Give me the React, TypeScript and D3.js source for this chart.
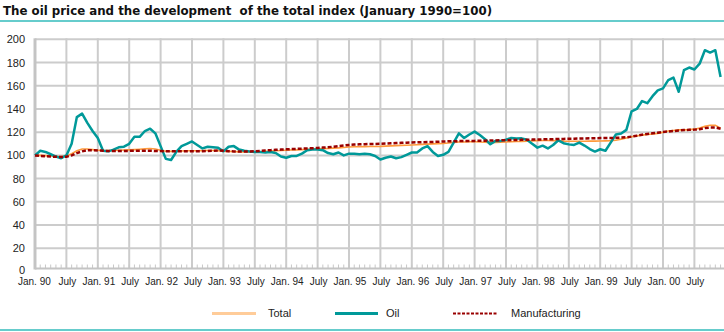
import React from "react";
import * as d3 from "d3";

const title = "The oil price and the development  of the total index (January 1990=100)";
const yTicks = [0, 20, 40, 60, 80, 100, 120, 140, 160, 180, 200];
const xTickLabels = [
  "Jan. 90", "July", "Jan. 91", "July", "Jan. 92", "July", "Jan. 93", "July",
  "Jan. 94", "July", "Jan. 95", "July", "Jan. 96", "July", "Jan. 97", "July",
  "Jan. 98", "July", "Jan. 99", "July", "Jan. 00", "July",
];
const seriesNames = ["Total", "Oil", "Manufacturing"];

// monthly values, Jan 1990 .. Dec 2000
const total = [
  100, 100, 99.8, 99.5, 99.2, 99, 99.5, 101.5, 104, 105.5, 105.5, 105,
  104.5, 104.3, 104.2, 104.3, 104.5, 104.6, 104.8, 105, 105.3, 105.6, 106, 105.5,
  104.5, 103.6, 103.5, 103.6, 103.8, 104, 104, 104, 104.1, 104.2, 104.2, 104,
  103.6, 103.5, 103.3, 103, 103, 103, 103, 103.2, 103.5, 103.8, 104, 104.2,
  104.5, 104.7, 104.8, 105, 105.3, 105.5, 105.6, 105.8, 106, 106.3, 106.5, 106.8,
  107.2, 107.4, 107.5, 107.6, 107.7, 107.7, 107.8, 108, 108.2, 108.4, 108.6, 108.8,
  109, 109.2, 109.5, 109.7, 109.9, 110.1, 110.3, 110.7, 111.2, 111.5, 111.6, 111.8,
  111.8, 111.5, 111.3, 111, 111.2, 111.4, 111.6, 111.8, 112, 112, 112.2, 112.5,
  112.7, 112.8, 112.8, 112.7, 112.5, 112.3, 112.2, 112.2, 112.2, 112.2, 112.3, 112.3,
  112.4, 112.5, 112.6, 113, 114, 115, 116, 116.8, 117.5, 118, 118.5, 119,
  120, 121, 121.5, 122, 122, 122.2, 122.6, 123.5, 125, 126, 126, 123.5,
];
const oil = [
  100, 104, 103, 101, 99, 97.6, 100, 110, 133, 136, 128, 121,
  115, 104, 103.5, 105, 107, 107.5, 110, 116, 116, 121, 123, 119,
  108, 97, 96, 103, 108, 110, 112, 109, 106, 107.5, 107, 106.5,
  103.5, 107.5, 108, 105, 104, 103.3, 103, 103, 102.5, 103, 102, 99,
  98, 99.5, 99.5, 101.5, 104.5, 105, 105, 104.5, 102, 101, 102.5, 100,
  101.5, 101.5, 101, 101.5, 101, 99.5, 96.5, 98, 99, 97.5, 98.5, 100.5,
  102.5, 102.5, 106, 108, 103, 99.5, 100.5, 103, 111, 119, 115, 118,
  120.5, 117.5, 114, 109.6, 112.5, 112.5, 113.5, 115, 114.5, 114.7, 113.5, 110,
  106.7, 108.4, 106, 109, 113, 110.5, 109.5, 109, 111, 108.5, 105.5, 103.3,
  105.3, 104, 111, 118, 118.8, 122, 138, 140, 146.8, 145, 151, 156,
  157.7, 164.8, 167, 154.8, 173.4, 175.7, 174, 179, 190.6, 188.6, 190.6, 167.6,
];
const manufacturing = [
  100, 99.6, 99.3, 99, 98.8, 98.6, 98.8, 100, 102, 103.5, 104.5, 104.5,
  104.3, 104, 103.8, 103.7, 103.7, 103.8, 103.9, 104, 104, 104, 104, 103.8,
  103.7, 103.6, 103.6, 103.6, 103.6, 103.6, 103.6, 103.6, 103.6, 103.8, 104, 104.2,
  104, 103.6, 103.4, 103.3, 103.3, 103.4, 103.6, 103.9, 104.2, 104.5, 104.8, 105,
  105.2, 105.4, 105.6, 105.8, 106, 106.2, 106.4, 106.7, 107, 107.5, 108, 108.5,
  109, 109.3, 109.5, 109.7, 109.8, 109.9, 110, 110.2, 110.4, 110.6, 110.8, 111,
  111.2, 111.3, 111.4, 111.5, 111.6, 111.8, 112, 112.1, 112.2, 112.3, 112.4, 112.5,
  112.5, 112.6, 112.7, 112.8, 112.9, 113, 113.1, 113.2, 113.3, 113.4, 113.5, 113.6,
  113.7, 113.8, 113.9, 114, 114.1, 114.2, 114.3, 114.4, 114.5, 114.6, 114.7, 114.8,
  114.9, 115, 115, 115.1, 115.3, 115.6, 116.2, 117, 117.8, 118.5, 119, 119.5,
  120.2, 120.6, 121, 121.4, 121.8, 122, 122.2, 122.5, 123.5, 124, 124, 123,
];

const W = 724;
const H = 332;
const FONT = "'Liberation Sans', Arial, sans-serif";

export default function App() {
  const x = d3.scaleLinear().domain([0, 132]).range([35, 725.8]);
  const y = d3.scaleLinear().domain([0, 200]).range([271.5, 39.3]);
  const axisY = 268.5;
  const line = d3
    .line<number>()
    .x((_, i) => x(i))
    .y((d) => y(d))
    .curve(d3.curveLinear);

  const months = d3.range(0, 133);
  const halfYears = d3.range(0, 22).map((k) => k * 6);

  return (
    <svg
      width={W}
      height={H}
      style={{ position: "fixed", left: 0, top: 0, background: "#fff" }}
      fontFamily={FONT}
    >
      <text
        x={3}
        y={15}
        fontSize={11.8}
        fontWeight="bold"
        fill="#111"
        fontFamily="'DejaVu Sans', Verdana, sans-serif"
        style={{ whiteSpace: "pre" }}
        xmlSpace="preserve"
      >
        {title}
      </text>
      <rect x={0} y={20} width={W} height={2} fill="#66cccc" />

      {/* horizontal grid */}
      {yTicks.filter((t) => t > 0).map((t) => (
        <line key={"h" + t} x1={35} x2={W} y1={y(t)} y2={y(t)} stroke="#cccccc" strokeWidth={2} />
      ))}
      {/* vertical grid */}
      {halfYears.filter((m) => m > 0).map((m) => (
        <line key={"v" + m} x1={x(m)} x2={x(m)} y1={y(200) - 1} y2={axisY} stroke="#cccccc" strokeWidth={2} />
      ))}
      {/* minor month ticks */}
      {months.map((m) => (
        <line key={"t" + m} x1={x(m)} x2={x(m)} y1={axisY - 4} y2={axisY} stroke="#c8c8c8" strokeWidth={1} />
      ))}
      {/* axes */}
      <line x1={35} x2={W} y1={axisY} y2={axisY} stroke="#c4c4c4" strokeWidth={2} />
      <line x1={35} x2={35} y1={y(200) - 1} y2={axisY + 1} stroke="#c4c4c4" strokeWidth={3} />

      {/* y labels */}
      {yTicks.map((t) => (
        <text key={"yl" + t} x={25} y={t === 0 ? y(t) + 2 : y(t) + 4} fontSize={11} textAnchor="end" fill="#222">
          {t}
        </text>
      ))}
      {/* x labels */}
      {halfYears.map((m, i) => (
        <text
          key={"xl" + m}
          x={i === 0 ? 18 : x(m) + 1}
          y={285}
          fontSize={10}
          textAnchor={i === 0 ? "start" : "middle"}
          fill="#222"
        >
          {xTickLabels[i]}
        </text>
      ))}

      {/* series */}
      <path d={line(total) || ""} fill="none" stroke="#ff9a3c" strokeWidth={1.6} />
      <path d={line(oil) || ""} fill="none" stroke="#009999" strokeWidth={2.5} strokeLinejoin="round" />
      <path d={line(manufacturing) || ""} fill="none" stroke="#990000" strokeWidth={2.5} strokeDasharray="4,2" />

      {/* legend */}
      <line x1={212} x2={256} y1={313.5} y2={313.5} stroke="#ffcc99" strokeWidth={3} />
      <text x={268} y={317} fontSize={11} fill="#222">{seriesNames[0]}</text>
      <line x1={335} x2={378} y1={313.5} y2={313.5} stroke="#009999" strokeWidth={3} />
      <text x={386} y={317} fontSize={11} fill="#222">{seriesNames[1]}</text>
      <line x1={453} x2={497} y1={313.5} y2={313.5} stroke="#990000" strokeWidth={2} strokeDasharray="3,1.5" />
      <text x={511} y={317} fontSize={11} fill="#222">{seriesNames[2]}</text>

      <rect x={0} y={329} width={W} height={2} fill="#66cccc" />
    </svg>
  );
}
